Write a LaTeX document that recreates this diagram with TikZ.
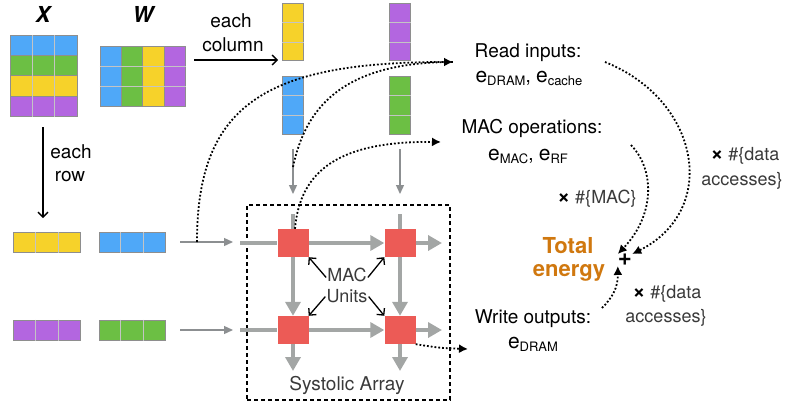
\documentclass[tikz,border=0pt]{standalone}
\usepackage{fontspec}
\setmainfont{TeX Gyre Heros}
\definecolor{saBlue}{HTML}{4FA8F8}
\definecolor{saGreen}{HTML}{6CBF44}
\definecolor{saYellow}{HTML}{F6D22A}
\definecolor{saPurple}{HTML}{B366E0}
\definecolor{saRed}{HTML}{EC5B56}
\definecolor{saPipe}{HTML}{A3A6A5}
\definecolor{saFeed}{HTML}{8C8F91}
\definecolor{saEdge}{HTML}{8E8E8E}
\definecolor{saSep}{HTML}{C4C4C4}
\definecolor{saLight}{HTML}{3A3A3A}
\definecolor{saOrange}{HTML}{D0780F}
\usetikzlibrary{calc,positioning,arrows.meta}
\newcommand{\esub}[1]{{\fontsize{21}{21}\selectfont e}\raisebox{-0.2em}{\fontsize{13}{13}\selectfont #1}}
\newcommand{\mulx}{{\fontsize{22}{22}\selectfont\bfseries\color{black}×}}

\begin{document}
\begin{tikzpicture}[x=1pt, y=-1pt,
  vec/.style={draw=saEdge, line width=1pt, inner sep=0pt},
  sep/.style={draw=saSep, line width=0.8pt},
  mac/.style={fill=saRed, minimum width=31pt, minimum height=28pt, inner sep=0pt},
  pipe/.style={draw=saPipe, line width=4.5pt},
  pipeA/.style={pipe, -{Triangle[length=14pt,width=15pt]}},
  feed/.style={draw=saFeed, line width=1.3pt, -{Triangle[length=9pt,width=8pt]}},
  blk/.style={line width=1.3pt, -{Straight Barb[length=5pt,width=10pt]}},
  dot/.style={line width=1.8pt, dash pattern=on 1.8pt off 2pt, -{Latex[length=9pt,width=9pt]}},
  txt/.style={font=\fontsize{19}{23}\selectfont, anchor=base, inner sep=1pt},
  lgt/.style={txt, text=saLight},
  hdr/.style={font=\fontsize{22}{22}\selectfont\bfseries\itshape, anchor=base}
]
  \useasboundingbox (0,0) rectangle (795,404);
  % Matrices X and W
  \node[hdr] (xT) at (43,23) {X};
  \node[hdr] (wT) at (143,23) {W};
  \foreach \c [count=\i] in {saBlue,saGreen,saYellow,saPurple}
    \node[vec, fill=\c, minimum width=67pt, minimum height=20pt] (x\i) at (43.5,26+20*\i) {};
  \foreach \k in {1,2}
    \draw[sep] ($(x1.north west)!\k/3!(x1.north east)$) -- ($(x4.south west)!\k/3!(x4.south east)$);
  \foreach \c [count=\i] in {saBlue,saGreen,saYellow,saPurple}
    \node[vec, fill=\c, minimum width=21.4pt, minimum height=59pt] (w\i) at (89.3+21.4*\i,76.5) {};
  \foreach \k in {1,2}
    \draw[sep] ($(w1.north west)!\k/3!(w1.south west)$) -- ($(w4.north east)!\k/3!(w4.south east)$);
  % each column / each row
  \node[txt] (colT1) at (231,28) {each};
  \node[txt] (colT2) at (233,51.5) {column};
  \coordinate (colS) at (194,60);
  \coordinate (colE) at (278,60);
  \draw[blk] (colS) -- (colE);
  \node[txt] (rowT1) at (71,158) {each};
  \node[txt] (rowT2) at (70,181.5) {row};
  \coordinate (rowS) at (43,127);
  \coordinate (rowE) at (43,218);
  \draw[blk] (rowS) -- (rowE);
  % Column vectors
  \node[vec, fill=saYellow, minimum width=21pt, minimum height=57pt] (cA) at (292.5,32.5) {};
  \node[vec, fill=saPurple, minimum width=21pt, minimum height=57pt] (cB) at (400,32.5) {};
  \node[vec, fill=saBlue, minimum width=21pt, minimum height=57pt] (cC) at (292.5,105.5) {};
  \node[vec, fill=saGreen, minimum width=21pt, minimum height=57pt] (cD) at (400,105.5) {};
  \foreach \n in {cA,cB,cC,cD}
    \foreach \k in {1,2}
      \draw[sep] ($(\n.north west)!\k/3!(\n.south west)$) -- ($(\n.north east)!\k/3!(\n.south east)$);
  % Row vectors
  \node[vec, fill=saYellow, minimum width=67pt, minimum height=20pt] (rA) at (47,242) {};
  \node[vec, fill=saBlue, minimum width=66pt, minimum height=20pt] (rB) at (132,242) {};
  \node[vec, fill=saPurple, minimum width=67pt, minimum height=20pt] (rC) at (47,330) {};
  \node[vec, fill=saGreen, minimum width=66pt, minimum height=20pt] (rD) at (132,330) {};
  \foreach \n in {rA,rB,rC,rD}
    \foreach \k in {1,2}
      \draw[sep] ($(\n.north west)!\k/3!(\n.north east)$) -- ($(\n.south west)!\k/3!(\n.south east)$);
  % Feeds into the array
  \coordinate (fr1) at (180,242);
  \coordinate (fr1e) at (233,242);
  \coordinate (fr2) at (180,330);
  \coordinate (fr2e) at (233,330);
  \coordinate (fc1) at (293,149);
  \coordinate (fc1e) at (293,194);
  \coordinate (fc2) at (400,149);
  \coordinate (fc2e) at (400,194);
  \draw[feed] (fr1) -- (fr1e);
  \draw[feed] (fr2) -- (fr2e);
  \draw[feed] (fc1) -- (fc1e);
  \draw[feed] (fc2) -- (fc2e);
  % Systolic array
  \node[draw, line width=1.5pt, dash pattern=on 4pt off 3pt, minimum width=203pt,
    minimum height=195pt, inner sep=0pt] (box) at (348.5,302.5) {};
  \node[lgt] (boxT) at (347,390) {Systolic Array};
  \coordinate (h1) at (240,243);  \coordinate (h1e) at (442,243);
  \coordinate (h2) at (240,330);  \coordinate (h2e) at (442,330);
  \coordinate (v1) at (293,214);  \coordinate (v1e) at (293,371);
  \coordinate (v2) at (400,214);  \coordinate (v2e) at (400,371);
  \node[mac] (m11) at (293,243) {};
  \node[mac] (m12) at (400,243) {};
  \node[mac] (m21) at (293,330) {};
  \node[mac] (m22) at (400,330) {};
  \draw[pipe] (h1) -- (m11);
  \draw[pipe] (h2) -- (m21);
  \draw[pipe] (v1) -- (m11);
  \draw[pipe] (v2) -- (m12);
  \draw[pipeA] (m11) -- (m12);
  \draw[pipeA] (m21) -- (m22);
  \draw[pipeA] (m11) -- (m21);
  \draw[pipeA] (m12) -- (m22);
  \draw[pipeA] (m12) -- (h1e);
  \draw[pipeA] (m22) -- (h2e);
  \draw[pipeA] (m21) -- (v1e);
  \draw[pipeA] (m22) -- (v2e);
  \foreach \n in {m11,m12,m21,m22}
    \node[mac] at (\n) {};
  \node[lgt, font=\fontsize{18}{22}\selectfont] (macT) at (347,281) {MAC};
  \node[lgt, font=\fontsize{18}{22}\selectfont] (unitsT) at (347,302) {Units};
  \draw[blk] ([yshift=-3pt]macT.west) -- (m11.south east);
  \draw[blk] ([yshift=-3pt]macT.east) -- (m12.south west);
  \draw[blk] ([yshift=-1pt]unitsT.west) -- (m21.north east);
  \draw[blk] ([yshift=-1pt]unitsT.east) -- (m22.north west);
  % Energy terms
  \node[txt] (readT) at (528,58) {Read inputs:};
  \node[txt] (readE) at (529,82) {\esub{DRAM}, \esub{cache}};
  \node[txt] (opT) at (532,133) {MAC operations:};
  \node[txt] (opE) at (528,160) {\esub{MAC}, \esub{RF}};
  \node[txt] (wrT) at (533,323) {Write outputs:};
  \node[txt] (wrE) at (533,348) {\esub{DRAM}};
  \node[lgt, font=\fontsize{18}{22}\selectfont] (accT1) at (745,160) {\mulx\ \#\{data};
  \node[lgt, font=\fontsize{18}{22}\selectfont] (accT2) at (742,185) {accesses\}};
  \node[lgt, font=\fontsize{18}{22}\selectfont] (mulT) at (597,203) {\mulx\ \#\{MAC\}};
  \node[lgt, font=\fontsize{18}{22}\selectfont] (accB1) at (667,298) {\mulx\ \#\{data};
  \node[lgt, font=\fontsize{18}{22}\selectfont] (accB2) at (666,322) {accesses\}};
  \node[txt, font=\fontsize{22}{22}\selectfont\bfseries, text=saOrange] (totT1) at (568,253) {Total};
  \node[txt, font=\fontsize{22}{22}\selectfont\bfseries, text=saOrange] (totT2) at (569,276) {energy};
  \node[font=\fontsize{24}{24}\selectfont\bfseries, inner sep=0pt] (plus) at (625,260) {+};
  % Dotted flows
  \coordinate (readIn) at (453,62);
  \coordinate (opIn) at (441,142);
  \coordinate (wrIn) at (468,349);
  \coordinate (t1) at (197,242);
  \coordinate (t2) at (293,167);
  \draw[dot] (t1) .. controls (197,105) and (265,62) .. (readIn);
  \draw[dot, -] (t2) .. controls (305,110) and (340,62) .. (readIn);
  \draw[dot] (m11.north) ++(2,0) .. controls (300,170) and (340,141) .. (opIn);
  \draw[dot] (m22.south east) .. controls (440,348) .. (wrIn);
  \draw[dot] (605,62) .. controls (700,100) and (720,210) .. (plus.north east);
  \draw[dot] (631,145) .. controls (655,170) and (655,215) .. (plus.north west);
  \draw[dot] (602,308) .. controls (612,298) and (618,288) .. (plus.south west);
\end{tikzpicture}
\end{document}
